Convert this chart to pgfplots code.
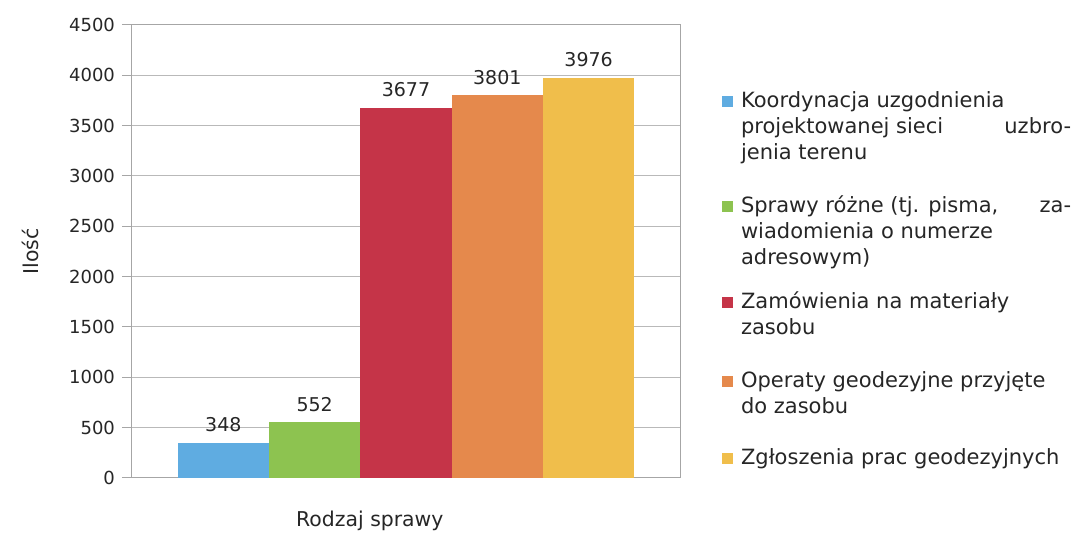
\documentclass[border=0pt]{standalone}
\usepackage{pgfplots}
\pgfplotsset{compat=1.18}
\usepackage{fontspec}
\setmainfont{DejaVu Sans}
\definecolor{cblue}{RGB}{95,172,225}
\definecolor{cgreen}{RGB}{141,195,80}
\definecolor{cred}{RGB}{197,52,72}
\definecolor{corange}{RGB}{229,137,76}
\definecolor{cyellow}{RGB}{240,190,75}
\begin{document}
\begin{tikzpicture}
\path (0,0) rectangle (540.5pt,268.5pt);
\begin{axis}[
  at={(66pt,29.5pt)}, anchor=south west,
  scale only axis, width=274pt, height=226.5pt,
  xmin=-1, xmax=5, ymin=0, ymax=4500,
  ytick={0,500,...,4500}, xtick=\empty,
  ymajorgrids, grid style={gray!55, line width=0.5pt},
  axis line style={gray!70, line width=0.5pt},
  tick style={gray!70, line width=0.5pt},
  tick align=outside, ytick pos=left, major tick length=5pt,
  /pgf/number format/assume math mode=true,
  /pgf/number format/1000 sep={},
  yticklabel style={font=\fontsize{9}{11}\selectfont, text=black!85},
  ylabel={Ilość}, xlabel={Rodzaj sprawy},
  label style={font=\fontsize{10.2}{12}\selectfont, text=black!85},
  ylabel style={at={(axis description cs:-0.186,0.5)}, anchor=center},
  xlabel style={at={(axis description cs:0.434,-0.095)}, anchor=center},
  ybar, bar width=45.67pt, bar shift=0pt,
  nodes near coords,
  every node near coord/.append style={font=\fontsize{9.5}{12}\selectfont, text=black!85, yshift=2pt},
  legend image code/.code={\fill[#1,draw=none] (0pt,0pt) rectangle (5.5pt,5.5pt); \path (7.5pt,0pt);},
  legend style={at={(rel axis cs:1.076,0.859)}, anchor=north west, draw=none, fill=none,
    inner sep=0pt, row sep=12.5pt, font=\fontsize{10.5}{13}\selectfont,
    cells={anchor=base west}, nodes={inner xsep=2pt, inner ysep=0pt, text=black!85}},
]
\addplot[fill=cblue, draw=none] coordinates {(0,348)};
\addlegendentry[text depth=30.9pt]{\parbox[t]{165pt}{\strut Koordynacja uzgodnienia\\ projektowanej sieci\hfill uzbro-\\ jenia terenu\strut}}
\addplot[fill=cgreen, draw=none] coordinates {(1,552)};
\addlegendentry[text depth=26.4pt]{\parbox[t]{165pt}{\strut Sprawy różne (tj. pisma,\hfill za-\\ wiadomienia o numerze\\ adresowym)\strut}}
\addplot[fill=cred, draw=none] coordinates {(2,3677)};
\addlegendentry[text depth=17.9pt]{\parbox[t]{165pt}{\strut Zamówienia na materiały\\ zasobu\strut}}
\addplot[fill=corange, draw=none] coordinates {(3,3801)};
\addlegendentry[text depth=16.9pt]{\parbox[t]{165pt}{\strut Operaty geodezyjne przyjęte\\ do zasobu\strut}}
\addplot[fill=cyellow, draw=none] coordinates {(4,3976)};
\addlegendentry[text depth=3.9pt]{\parbox[t]{165pt}{\strut Zgłoszenia prac geodezyjnych\strut}}
\end{axis}
\end{tikzpicture}
\end{document}
